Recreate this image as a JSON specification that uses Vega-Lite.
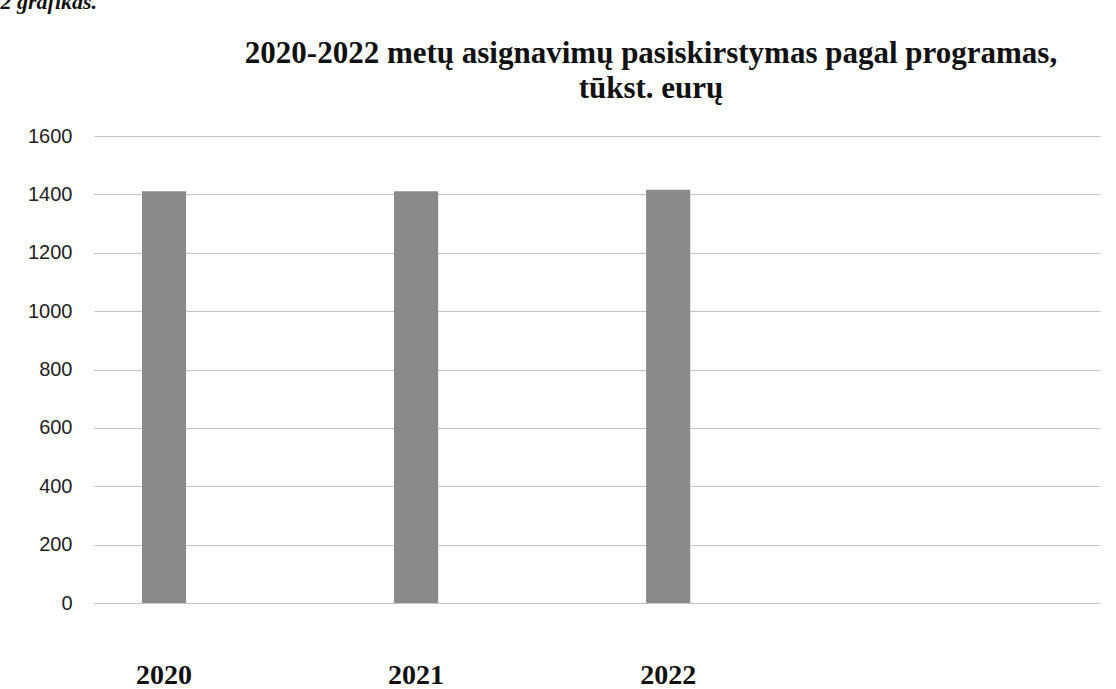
{
  "$schema": "https://vega.github.io/schema/vega-lite/v6.json",
  "width": 1006,
  "height": 467,
  "autosize": "none",
  "padding": {"left": 94, "top": 136, "right": 16, "bottom": 86},
  "background": "white",
  "title": {
    "text": ["2020-2022 metų asignavimų pasiskirstymas pagal programas,", "tūkst. eurų"],
    "font": "Liberation Serif",
    "fontSize": 31,
    "fontWeight": "bold",
    "color": "#111111",
    "anchor": "middle",
    "frame": "group",
    "dx": 54,
    "offset": -115,
    "lineHeight": 35
  },
  "data": {
    "values": [
      {"year": "2020", "value": 1411},
      {"year": "2021", "value": 1411},
      {"year": "2022", "value": 1416}
    ]
  },
  "mark": {"type": "bar", "color": "#8a8a8a"},
  "encoding": {
    "x": {
      "field": "year",
      "type": "nominal",
      "scale": {"domain": ["2020", "2021", "2022"], "paddingInner": 0.825, "paddingOuter": 0.908, "align": 0.1048},
      "axis": {
        "title": null,
        "labelAngle": 0,
        "domain": false,
        "ticks": false,
        "grid": false,
        "labelFont": "Liberation Serif",
        "labelFontSize": 28,
        "labelFontWeight": "bold",
        "labelColor": "#111111",
        "labelBaseline": "alphabetic",
        "labelPadding": 80
      }
    },
    "y": {
      "field": "value",
      "type": "quantitative",
      "scale": {"domain": [0, 1600], "nice": false},
      "axis": {
        "title": "2 grafikas.",
        "titleAngle": 0,
        "titleX": -94,
        "titleY": -128,
        "titleAlign": "left",
        "titleBaseline": "alphabetic",
        "titleFont": "Liberation Serif",
        "titleFontSize": 22,
        "titleFontWeight": "bold",
        "titleFontStyle": "italic",
        "titleColor": "#111111",
        "values": [0, 200, 400, 600, 800, 1000, 1200, 1400, 1600],
        "format": "d",
        "domain": false,
        "ticks": false,
        "grid": true,
        "gridColor": "#c4c4c4",
        "gridWidth": 1,
        "labelFont": "Liberation Sans",
        "labelFontSize": 20,
        "labelColor": "#222222",
        "labelPadding": 22
      }
    }
  },
  "config": {"view": {"stroke": null}}
}
